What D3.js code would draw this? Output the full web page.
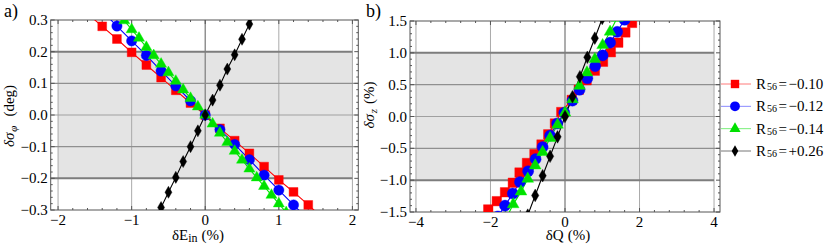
<!DOCTYPE html>
<html>
<head>
<meta charset="utf-8">
<script src="https://cdn.jsdelivr.net/npm/d3@7"></script>
<style>
  body { margin: 0; background: #fff; }
</style>
</head>
<body>
<div id="chart"></div>
<script>
// ---- panel a) : dSigma_phi (deg) vs dE_in (%)
let aRedX = [-1.6, -1.4, -1.2, -1.0, -0.8, -0.6, -0.4, -0.2, 0, 0.2, 0.4, 0.6, 0.8, 1.0, 1.2, 1.4, 1.6]
let aRedY = [0.32, 0.28, 0.24, 0.198, 0.158, 0.118, 0.078, 0.038, 0, -0.042, -0.081, -0.121, -0.163, -0.205, -0.243, -0.284, -0.326]

let aBlueX = [-1.4, -1.2, -1.0, -0.8, -0.6, -0.4, -0.2, 0, 0.2, 0.4, 0.6, 0.8, 1.0, 1.2, 1.4]
let aBlueY = [0.328, 0.281, 0.234, 0.188, 0.139, 0.092, 0.045, 0, -0.046, -0.093, -0.141, -0.19, -0.237, -0.284, -0.33]

let aGreenX = [-1.2, -1.1, -1.0, -0.9, -0.8, -0.7, -0.6, -0.5, -0.4, -0.3, -0.2, -0.1, 0, 0.1, 0.2, 0.3, 0.4, 0.5, 0.6, 0.7, 0.8, 0.9, 1.0, 1.1, 1.2]
let aGreenY = [0.326, 0.298, 0.27, 0.243, 0.214, 0.188, 0.161, 0.134, 0.107, 0.08, 0.053, 0.026, 0, -0.028, -0.057, -0.086, -0.114, -0.142, -0.17, -0.198, -0.225, -0.253, -0.28, -0.308, -0.336]

let aBlackX = [-0.7, -0.6, -0.5, -0.4, -0.3, -0.2, -0.1, 0, 0.1, 0.2, 0.3, 0.4, 0.5, 0.6, 0.7]
let aBlackY = [-0.336, -0.292, -0.244, -0.197, -0.147, -0.1, -0.05, 0, 0.047, 0.094, 0.145, 0.19, 0.239, 0.287, 0.335]

// ---- panel b) : dSigma_z (%) vs dQ (%)
let bRedX = [-2.25, -2.06, -1.83, -1.61, -1.40, -1.22, -1.02, -0.82, -0.63, -0.45, -0.27, -0.1, 0.18, 0.37, 0.58, 0.8, 1.02, 1.23, 1.43, 1.62, 1.8, 1.98]
let bRedY = [-1.62, -1.46, -1.33, -1.19, -1.04, -0.88, -0.73, -0.59, -0.44, -0.28, -0.11, 0.07, 0.26, 0.42, 0.57, 0.72, 0.86, 1.01, 1.16, 1.32, 1.47, 1.62]

let bBlueX = [-1.8, -1.61, -1.40, -1.21, -0.99, -0.79, -0.6, -0.4, -0.21, -0.02, 0.2, 0.39, 0.6, 0.81, 1.01, 1.21, 1.4, 1.6]
let bBlueY = [-1.57, -1.40, -1.21, -1.03, -0.86, -0.67, -0.48, -0.3, -0.11, 0.06, 0.25, 0.42, 0.6, 0.79, 0.96, 1.16, 1.33, 1.52]

let bGreenX = [-1.58, -1.39, -1.18, -1.0, -0.8, -0.6, -0.4, -0.2, 0, 0.2, 0.39, 0.59, 0.8, 1.01, 1.21, 1.4]
let bGreenY = [-1.6, -1.38, -1.18, -0.98, -0.77, -0.56, -0.34, -0.13, 0.06, 0.27, 0.48, 0.69, 0.9, 1.12, 1.33, 1.55]

let bBlackX = [-1.0, -0.8, -0.6, -0.4, -0.2, 0, 0.2, 0.4, 0.6, 0.8, 1.0]
let bBlackY = [-1.55, -1.24, -0.93, -0.625, -0.32, 0, 0.31, 0.625, 0.93, 1.23, 1.54]

let aXTicks = [-2, -1, 0, 1, 2]
let aYTicks = [-0.3, -0.2, -0.1, 0.0, 0.1, 0.2, 0.3]
let bXTicks = [-4, -2, 0, 2, 4]
let bYTicks = [-1.5, -1.0, -0.5, 0.0, 0.5, 1.0, 1.5]

let legendValues = ["\u22120.10", "\u22120.12", "\u22120.14", "+0.26"]

let seriesColors = ["#ff0000", "#0000ff", "#00e000", "#000000"]
let legendLineColors = ["#ff7a7a", "#8a8aff", "#7aef7a", "#777777"]
let shapes = [d3.symbolSquare, d3.symbolCircle, d3.symbolTriangle, d3.symbolDiamond]
let shapeSizes = [78, 84, 60, 42]

const SERIF = "'Liberation Serif', 'Times New Roman', 'DejaVu Serif', serif"

let svg = d3.select("#chart")
  .append("svg")
  .attr("width", 830)
  .attr("height", 246)
  .attr("font-family", SERIF)
  .style("font-family", SERIF)

function zip(xs, ys) {
  return xs.map((x, i) => ({ x: x, y: ys[i] }))
}

function panel(opt) {
  let x = d3.scaleLinear().domain(opt.xDomain).range(opt.xRange)
  let y = d3.scaleLinear().domain(opt.yDomain).range(opt.yRange)
  let g = svg.append("g")

  let clipId = "clip-" + opt.name
  svg.append("defs").append("clipPath").attr("id", clipId)
    .append("rect")
    .attr("x", opt.xRange[0]).attr("y", opt.yRange[1])
    .attr("width", opt.xRange[1] - opt.xRange[0])
    .attr("height", opt.yRange[0] - opt.yRange[1])

  // gray acceptance band
  g.append("rect")
    .attr("x", x(opt.band[0]))
    .attr("y", y(opt.band[3]))
    .attr("width", x(opt.band[1]) - x(opt.band[0]))
    .attr("height", y(opt.band[2]) - y(opt.band[3]))
    .attr("fill", "#e4e4e4")

  // grid
  g.selectAll(".vgrid")
    .data(opt.xTicks.filter(d => d > opt.xDomain[0] && d < opt.xDomain[1]))
    .enter().append("line")
    .attr("x1", d => x(d)).attr("x2", d => x(d))
    .attr("y1", opt.yRange[0]).attr("y2", opt.yRange[1])
    .attr("stroke", d => d === 0 ? "#8a8a8a" : "#aaaaaa")
    .attr("stroke-width", d => d === 0 ? 1.4 : 1)
  g.selectAll(".hgrid")
    .data(opt.yTicks.filter(d => d > opt.yDomain[0] && d < opt.yDomain[1]))
    .enter().append("line")
    .attr("x1", opt.xRange[0]).attr("x2", d => Math.abs(d) === opt.band[3] ? x(opt.band[1]) : opt.xRange[1])
    .attr("y1", d => y(d)).attr("y2", d => y(d))
    .attr("stroke", d => Math.abs(d) === opt.band[3] ? "#7d7d7d" : (d === 0 ? "#a0a0a0" : "#8f8f8f"))
    .attr("stroke-width", d => Math.abs(d) === opt.band[3] ? 2 : 1.2)

  // frame + ticks
  g.append("rect")
    .attr("x", opt.xRange[0]).attr("y", opt.yRange[1])
    .attr("width", opt.xRange[1] - opt.xRange[0])
    .attr("height", opt.yRange[0] - opt.yRange[1])
    .attr("fill", "none").attr("stroke", "#555").attr("stroke-width", 1)

  let xMinor = d3.range(opt.xTicks[0], opt.xTicks[opt.xTicks.length - 1] + 1e-9, opt.xMinor)
  let yMinor = d3.range(opt.yTicks[0], opt.yTicks[opt.yTicks.length - 1] + 1e-9, opt.yMinor)
  let isMajor = (v, ticks) => ticks.some(t => Math.abs(t - v) < 1e-9)
  xMinor.forEach(v => {
    let len = isMajor(v, opt.xTicks) ? 4 : 2
    g.append("line").attr("x1", x(v)).attr("x2", x(v))
      .attr("y1", opt.yRange[0]).attr("y2", opt.yRange[0] - len).attr("stroke", "#555")
    g.append("line").attr("x1", x(v)).attr("x2", x(v))
      .attr("y1", opt.yRange[1]).attr("y2", opt.yRange[1] + len).attr("stroke", "#555")
  })
  yMinor.forEach(v => {
    let len = isMajor(v, opt.yTicks) ? 4 : 2
    g.append("line").attr("y1", y(v)).attr("y2", y(v))
      .attr("x1", opt.xRange[0]).attr("x2", opt.xRange[0] + len).attr("stroke", "#555")
    g.append("line").attr("y1", y(v)).attr("y2", y(v))
      .attr("x1", opt.xRange[1]).attr("x2", opt.xRange[1] - len).attr("stroke", "#555")
  })

  // tick labels
  g.selectAll(".xl").data(opt.xTicks).enter().append("text")
    .attr("x", d => x(d)).attr("y", opt.yRange[0] + 15)
    .attr("text-anchor", "middle").attr("font-size", 15)
    .text(d => d < 0 ? "\u2212" + Math.abs(d) : d)
  g.selectAll(".yl").data(opt.yTicks).enter().append("text")
    .attr("x", opt.xRange[0] - 3).attr("y", d => y(d) + 5)
    .attr("text-anchor", "end").attr("font-size", 15)
    .text(d => (d < 0 ? "\u2212" : "") + Math.abs(d).toFixed(1))

  // series
  let plot = g.append("g").attr("clip-path", `url(#${clipId})`)
  let line = d3.line().x(d => x(d.x)).y(d => y(d.y))
  opt.series.forEach((s, i) => {
    let pts = zip(s[0], s[1])
    plot.append("path").datum(pts)
      .attr("d", line).attr("fill", "none")
      .attr("stroke", seriesColors[i]).attr("stroke-width", 1.1)
  })
  opt.series.forEach((s, i) => {
    let pts = zip(s[0], s[1])
    let sym = d3.symbol().type(shapes[i]).size(shapeSizes[i] * opt.markScale[i])
    plot.selectAll(".m" + i).data(pts).enter().append("path")
      .attr("d", sym)
      .attr("transform", d => `translate(${x(d.x)},${y(d.y)})`)
      .attr("fill", seriesColors[i])
      .attr("stroke", d3.color(seriesColors[i]).brighter(1.2))
      .attr("stroke-opacity", 0.5)
      .attr("stroke-width", 0.8)
  })

  // axis titles
  let xt = g.append("text").attr("x", opt.xLabelX)
    .attr("y", 240).attr("text-anchor", "middle").attr("font-size", 15)
  xt.append("tspan").text(opt.xLabel[0])
  if (opt.xLabel[1]) xt.append("tspan").attr("font-size", 12).attr("dy", 2).text(opt.xLabel[1])
  xt.append("tspan").attr("dy", opt.xLabel[1] ? -2 : 0).attr("dx", 4).text(opt.xLabel[2])

  let yt = g.append("text")
    .attr("transform", `translate(${opt.yLabelX},${opt.yLabelY}) rotate(-90)`)
    .attr("text-anchor", "middle").attr("font-size", 15)
  yt.append("tspan").attr("font-style", "italic").text(opt.yLabel[0])
  yt.append("tspan").attr("font-size", 11).attr("font-style", "italic").attr("dy", 3).attr("dx", 1).text(opt.yLabel[1])
  yt.append("tspan").attr("dy", -3).attr("dx", opt.yLabelGap).text(opt.yLabel[2])

  svg.append("text").attr("x", opt.tagX).attr("y", 17)
    .attr("font-size", 18).text(opt.tag)
}

panel({
  name: "a",
  tag: "a)", tagX: 4,
  xDomain: [-2.1, 2.08], xRange: [50.7, 358.3],
  yDomain: [-0.3, 0.3], yRange: [210, 20],
  band: [-2, 2, -0.2, 0.2],
  xTicks: aXTicks, yTicks: aYTicks, xMinor: 0.2, yMinor: 0.02,
  series: [[aRedX, aRedY], [aBlueX, aBlueY], [aGreenX, aGreenY], [aBlackX, aBlackY]],
  markScale: [1, 1, 0.9, 1],
  xLabel: ["\u03b4E", "in", "(%)"], xLabelX: 198,
  yLabel: ["\u03b4\u03c3", "\u03c6", "(deg)"], yLabelGap: 9,
  yLabelX: 14, yLabelY: 116
})

panel({
  name: "b",
  tag: "b)", tagX: 366,
  xDomain: [-4.16, 4.16], xRange: [410, 720],
  yDomain: [-1.5, 1.5], yRange: [212, 21],
  band: [-4, 4, -1, 1],
  xTicks: bXTicks, yTicks: bYTicks, xMinor: 0.4, yMinor: 0.1,
  series: [[bRedX, bRedY], [bBlueX, bBlueY], [bGreenX, bGreenY], [bBlackX, bBlackY]],
  markScale: [1.15, 1.15, 1, 1.1],
  xLabel: ["\u03b4Q", "", "(%)"], xLabelX: 568,
  yLabel: ["\u03b4\u03c3", "z", "(%)"], yLabelGap: 5,
  yLabelX: 374, yLabelY: 105
})

// legend
let legend = svg.append("g")
let ly = d3.scaleLinear().domain([0, 3]).range([84, 151])
legendValues.forEach((v, i) => {
  let yy = ly(i)
  legend.append("line").attr("x1", 721).attr("x2", 751)
    .attr("y1", yy).attr("y2", yy)
    .attr("stroke", legendLineColors[i]).attr("stroke-width", 1)
  legend.append("path")
    .attr("d", d3.symbol().type(shapes[i]).size(shapeSizes[i] * 0.9))
    .attr("transform", `translate(735,${yy})`)
    .attr("fill", seriesColors[i])
  let t = legend.append("text").attr("x", 756).attr("y", yy + 5).attr("font-size", 15)
  t.append("tspan").text("R")
  t.append("tspan").attr("font-size", 10).attr("dy", 1).attr("dx", 1).text("56")
  t.append("tspan").attr("dy", -1).attr("dx", 1.5).text("=")
  t.append("tspan").attr("dx", 1.5).text(v)
})
</script>
</body>
</html>
